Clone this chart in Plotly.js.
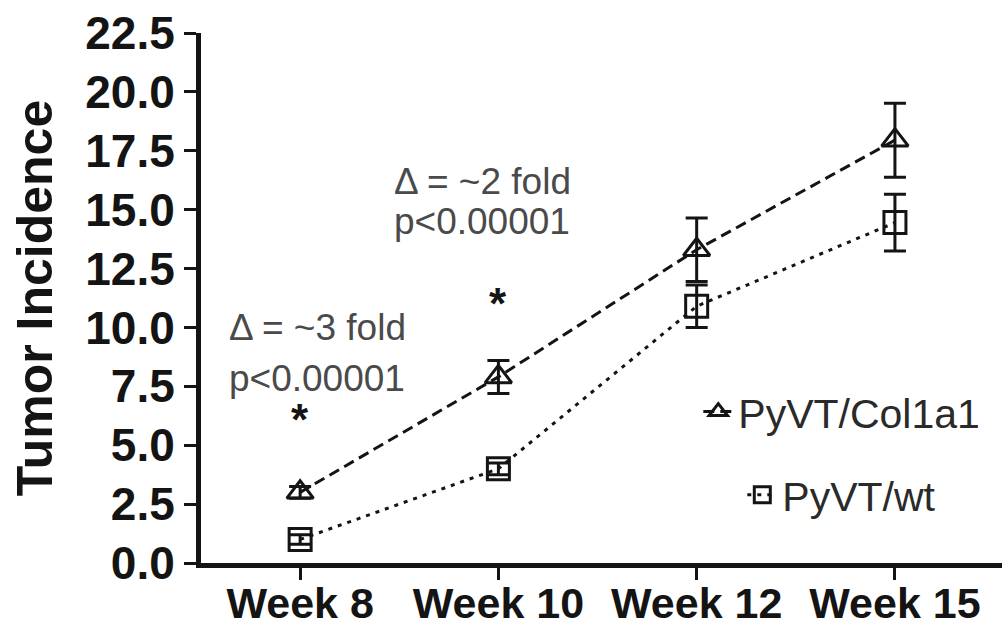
<!DOCTYPE html>
<html>
<head>
<meta charset="utf-8">
<script src="https://cdn.plot.ly/plotly-3.0.1.min.js"></script>
<style>html,body{margin:0;padding:0;background:#fff;}#chart{width:1002px;height:626px;}</style>
</head>
<body>
<div id="chart"></div>
<script>
var weeks = ["Week 8", "Week 10", "Week 12", "Week 15"];
var col1a1Values = [3.0, 7.9, 13.3, 17.95];
var col1a1Errors = [0.25, 0.7, 1.35, 1.57];
var wtValues = [1.0, 4.0, 10.9, 14.45];
var wtErrors = [0.2, 0.25, 0.9, 1.2];
var yTicks = [0, 2.5, 5, 7.5, 10, 12.5, 15, 17.5, 20, 22.5];
var yTickLabels = ["0.0", "2.5", "5.0", "7.5", "10.0", "12.5", "15.0", "17.5", "20.0", "22.5"];

var ink = "#141414";

var traces = [
  {
    x: weeks, y: col1a1Values, name: "PyVT/Col1a1", type: "scatter", mode: "lines+markers",
    legend: "legend",
    line: {color: ink, width: 3, dash: "11px,6px"},
    marker: {symbol: "triangle-up-open", size: 23, color: ink, line: {width: 3, color: ink}},
    error_y: {type: "data", array: col1a1Errors, visible: true, color: ink, thickness: 3, width: 11}
  },
  {
    x: weeks, y: wtValues, name: "PyVT/wt", type: "scatter", mode: "lines+markers",
    legend: "legend2",
    line: {color: ink, width: 3, dash: "4px,6px"},
    marker: {symbol: "square-open", size: 22, color: ink, line: {width: 3, color: ink}},
    error_y: {type: "data", array: wtErrors, visible: true, color: ink, thickness: 3, width: 11}
  }
];

var annFont = {family: "Liberation Sans, Arial, sans-serif", size: 37, color: "#4a4a4a"};
var starFont = {family: "Liberation Sans, Arial, sans-serif", size: 44, color: ink, weight: "bold"};

var layout = {
  width: 1002, height: 626,
  margin: {l: 201, r: 0, t: 33, b: 63, pad: 0},
  paper_bgcolor: "#fff", plot_bgcolor: "#fff",
  showlegend: true,
  xaxis: {
    type: "category", range: [-0.5, 3.54],
    showline: true, linecolor: ink, linewidth: 5,
    ticks: "outside", ticklen: 12, tickwidth: 3, tickcolor: ink,
    ticklabelstandoff: -14,
    showgrid: false, zeroline: false,
    tickfont: {family: "Liberation Sans, Arial, sans-serif", size: 43, color: ink, weight: "bold"}
  },
  yaxis: {
    range: [0, 22.5], tickvals: yTicks, ticktext: yTickLabels,
    showline: true, linecolor: ink, linewidth: 5,
    ticks: "outside", ticklen: 12, tickwidth: 3, tickcolor: ink,
    showgrid: false, zeroline: false,
    tickfont: {family: "Liberation Sans, Arial, sans-serif", size: 46, color: ink, weight: "bold"},
    title: {text: "Tumor Incidence", standoff: 18,
      font: {family: "Liberation Sans, Arial, sans-serif", size: 50, color: ink, weight: "bold"}}
  },
  legend: {
    x: 0.8, y: 0.285, xanchor: "center", yanchor: "middle",
    bgcolor: "rgba(0,0,0,0)", borderwidth: 0,
    font: {family: "Liberation Sans, Arial, sans-serif", size: 41, color: "#2a2a2a"}
  },
  legend2: {
    x: 0.8, y: 0.128, xanchor: "center", yanchor: "middle",
    bgcolor: "rgba(0,0,0,0)", borderwidth: 0,
    font: {family: "Liberation Sans, Arial, sans-serif", size: 41, color: "#2a2a2a"}
  },
  annotations: [
    {xref: "x", yref: "y", x: -0.367, y: 10.0, xanchor: "left", yanchor: "middle", showarrow: false, text: "Δ = ~3 fold", font: annFont},
    {xref: "x", yref: "y", x: -0.367, y: 7.85, xanchor: "left", yanchor: "middle", showarrow: false, text: "p&lt;0.00001", font: annFont},
    {xref: "x", yref: "y", x: 0.462, y: 16.2, xanchor: "left", yanchor: "middle", showarrow: false, text: "Δ = ~2 fold", font: annFont},
    {xref: "x", yref: "y", x: 0.462, y: 14.5, xanchor: "left", yanchor: "middle", showarrow: false, text: "p&lt;0.00001", font: annFont},
    {xref: "x", yref: "y", x: 0, y: 6.1, xanchor: "center", yanchor: "middle", showarrow: false, text: "*", font: starFont},
    {xref: "x", yref: "y", x: 1, y: 11.0, xanchor: "center", yanchor: "middle", showarrow: false, text: "*", font: starFont}
  ]
};

Plotly.newPlot("chart", traces, layout, {displayModeBar: false, staticPlot: true});
</script>
</body>
</html>
